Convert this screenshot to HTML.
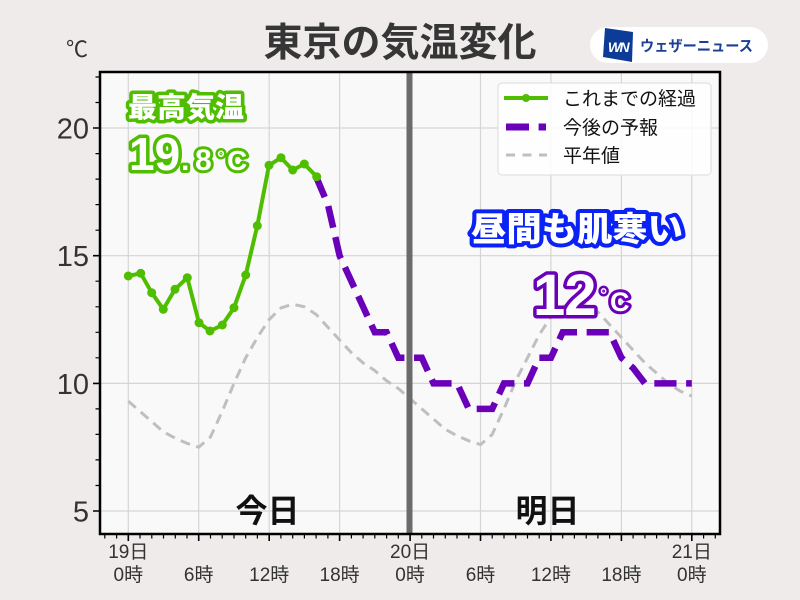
<!DOCTYPE html>
<html lang="ja">
<head>
<meta charset="utf-8">
<style>
  html,body{margin:0;padding:0;background:#eeebea;}
  svg{display:block;}
  text{font-family:"Liberation Sans","Noto Sans CJK JP",sans-serif;}
  .jp{font-family:"Noto Sans CJK JP","Liberation Sans",sans-serif;}
</style>
</head>
<body>
<svg width="800" height="600" viewBox="0 0 800 600" xmlns="http://www.w3.org/2000/svg">
  <rect x="0" y="0" width="800" height="600" fill="#eeebea"/>

  <!-- title -->
  <text class="jp" x="400" y="56" text-anchor="middle" font-size="39" font-weight="700" fill="#363636">東京の気温変化</text>

  <!-- logo -->
  <rect x="590" y="27" width="178" height="36" rx="18" fill="#ffffff"/>
  <polygon points="605,28 633,32 632,62 603,57" fill="#0c3c98"/>
  <text x="618" y="52" text-anchor="middle" font-size="14" font-weight="700" font-style="italic" fill="#ffffff" letter-spacing="-1.5">WN</text>
  <text class="jp" x="640" y="51" font-size="15" font-weight="700" fill="#1b3f94" textLength="113" lengthAdjust="spacingAndGlyphs">ウェザーニュース</text>

  <!-- unit -->
  <text class="jp" x="88" y="57" text-anchor="end" font-size="22" fill="#333">℃</text>

  <!-- plot background -->
  <rect x="100" y="72" width="620" height="462" fill="#faf9fa"/>

  <!-- grid -->
  <g stroke="#d6d4d6" stroke-width="1.2">
    <line x1="128.3" y1="72" x2="128.3" y2="534"/>
    <line x1="198.7" y1="72" x2="198.7" y2="534"/>
    <line x1="269.2" y1="72" x2="269.2" y2="534"/>
    <line x1="339.6" y1="72" x2="339.6" y2="534"/>
    <line x1="480.5" y1="72" x2="480.5" y2="534"/>
    <line x1="550.9" y1="72" x2="550.9" y2="534"/>
    <line x1="621.4" y1="72" x2="621.4" y2="534"/>
    <line x1="691.8" y1="72" x2="691.8" y2="534"/>
    <line x1="100" y1="511" x2="720" y2="511"/>
    <line x1="100" y1="383.4" x2="720" y2="383.4"/>
    <line x1="100" y1="255.7" x2="720" y2="255.7"/>
    <line x1="100" y1="128" x2="720" y2="128"/>
  </g>

  <!-- normal (gray dashed) -->
  <polyline fill="none" stroke="#c0bfc0" stroke-width="3" stroke-dasharray="10 6.5"
    points="128.3,401.2 140.0,411.4 151.8,421.6 163.5,431.9 175.3,438.2 187.0,443.3 198.7,447.2 210.5,437.0 222.2,411.4 234.0,383.4 245.7,357.8 257.4,337.4 269.2,319.5 280.9,308.0 292.7,304.2 304.4,306.8 316.1,314.4 327.9,327.2 339.6,340.0 351.4,352.7 363.1,362.9 374.8,370.6 386.6,380.8 398.3,388.5 410.1,398.7 421.8,408.9 433.5,419.1 445.3,429.3 457.0,435.7 468.8,440.8 480.5,444.6 492.2,434.4 504.0,408.9 515.7,380.8 527.5,357.8 539.2,334.8 550.9,317.0 562.7,306.8 574.4,301.7 586.2,304.2 597.9,311.9 609.6,324.6 621.4,337.4 633.1,350.2 644.9,362.9 656.6,373.1 668.3,383.4 680.1,391.0 691.8,396.1"/>

  <!-- forecast (purple dashed) -->
  <polyline fill="none" stroke="#6a00b8" stroke-width="6.5" stroke-dasharray="22.2 9.6" stroke-linejoin="miter"
    points="316.1,176.7 327.9,204.6 339.6,255.7 351.4,281.2 363.1,306.8 374.8,332.3 386.6,332.3 398.3,357.8 410.1,357.8 421.8,357.8 433.5,383.4 445.3,383.4 457.0,383.4 468.8,408.9 480.5,408.9 492.2,408.9 504.0,383.4 515.7,383.4 527.5,383.4 539.2,357.8 550.9,357.8 562.7,332.3 574.4,332.3 586.2,332.3 597.9,332.3 609.6,332.3 621.4,357.8 633.1,368.0 644.9,383.4 656.6,383.4 668.3,383.4 680.1,383.4 691.8,383.4"/>

  <!-- observed (green) -->
  <polyline fill="none" stroke="#50be00" stroke-width="4" stroke-linejoin="round"
    points="128.3,276 140.7,273.3 151.7,292.7 163.3,309.3 175,289.3 187.3,277.7 199,322.7 210,331 222.3,325 234,307.7 245.7,275 257.3,225.7 269,165.3 281,157.7 292.7,170 304.3,164 316.7,176.7"/>
  <g fill="#50be00">
    <circle cx="128.3" cy="276" r="4.5"/>
    <circle cx="140.7" cy="273.3" r="4.5"/>
    <circle cx="151.7" cy="292.7" r="4.5"/>
    <circle cx="163.3" cy="309.3" r="4.5"/>
    <circle cx="175" cy="289.3" r="4.5"/>
    <circle cx="187.3" cy="277.7" r="4.5"/>
    <circle cx="199" cy="322.7" r="4.5"/>
    <circle cx="210" cy="331" r="4.5"/>
    <circle cx="222.3" cy="325" r="4.5"/>
    <circle cx="234" cy="307.7" r="4.5"/>
    <circle cx="245.7" cy="275" r="4.5"/>
    <circle cx="257.3" cy="225.7" r="4.5"/>
    <circle cx="269" cy="165.3" r="4.5"/>
    <circle cx="281" cy="157.7" r="4.5"/>
    <circle cx="292.7" cy="170" r="4.5"/>
    <circle cx="304.3" cy="164" r="4.5"/>
    <circle cx="316.7" cy="176.7" r="4.5"/>
  </g>

  <!-- day divider -->
  <rect x="406.5" y="72" width="6" height="462" fill="#6b6b6b"/>

  <!-- day labels -->
  <text class="jp" x="267.5" y="522" text-anchor="middle" font-size="32" font-weight="700" fill="#111">今日</text>
  <text class="jp" x="547.5" y="522" text-anchor="middle" font-size="32" font-weight="700" fill="#111">明日</text>

  <!-- annotations -->
  <g stroke-linejoin="round">
    <text class="jp" x="128" y="117" font-size="28" font-weight="900" fill="#fff" stroke="#50be00" stroke-width="7" paint-order="stroke" textLength="116" lengthAdjust="spacingAndGlyphs">最高気温</text>
    <text x="129" y="170" font-size="46" font-weight="700" fill="#fff" stroke="#50be00" stroke-width="7" paint-order="stroke">19</text>
    <text x="181" y="170" font-size="30" font-weight="700" fill="#fff" stroke="#50be00" stroke-width="6" paint-order="stroke">.</text>
    <text x="195" y="170" font-size="30" font-weight="700" fill="#fff" stroke="#50be00" stroke-width="6" paint-order="stroke">8</text>
    <text x="217" y="165" font-size="20" font-weight="700" fill="#fff" stroke="#50be00" stroke-width="5" paint-order="stroke">°</text>
    <text x="227" y="170" font-size="28" font-weight="700" fill="#fff" stroke="#50be00" stroke-width="6" paint-order="stroke">C</text>

    <text class="jp" x="471" y="241" font-size="34" font-weight="900" fill="#fff" stroke="#0a22f5" stroke-width="8" paint-order="stroke" textLength="212" lengthAdjust="spacingAndGlyphs">昼間も肌寒い</text>

    <text x="533" y="315" font-size="58" font-weight="700" fill="#fff" stroke="#6a00b8" stroke-width="7" paint-order="stroke" letter-spacing="-1">12</text>
    <text x="600" y="301" font-size="18" font-weight="700" fill="#fff" stroke="#6a00b8" stroke-width="5" paint-order="stroke">°</text>
    <text x="610" y="311" font-size="27" font-weight="700" fill="#fff" stroke="#6a00b8" stroke-width="6" paint-order="stroke">C</text>
  </g>

  <!-- legend -->
  <rect x="498" y="83" width="213" height="92" rx="4" fill="#ffffff" fill-opacity="0.85" stroke="#dcdcdc" stroke-width="1"/>
  <line x1="504" y1="98" x2="548" y2="98" stroke="#50be00" stroke-width="4"/>
  <circle cx="526" cy="98" r="4" fill="#50be00"/>
  <line x1="506" y1="127" x2="546" y2="127" stroke="#6a00b8" stroke-width="7" stroke-dasharray="23 9.6"/>
  <line x1="506" y1="155" x2="547" y2="155" stroke="#c0bfc0" stroke-width="3" stroke-dasharray="9 7.5"/>
  <text class="jp" x="563" y="105" font-size="19" fill="#111">これまでの経過</text>
  <text class="jp" x="563" y="134" font-size="19" fill="#111">今後の予報</text>
  <text class="jp" x="563" y="162" font-size="19" fill="#111">平年値</text>

  <!-- axes frame -->
  <rect x="100" y="72" width="620" height="462" fill="none" stroke="#000" stroke-width="2.5"/>

  <!-- x ticks -->
  <path fill="none" stroke="#000" stroke-width="1.2" d="M104.8 535v3.5 M116.6 535v3.5 M140.0 535v3.5 M151.8 535v3.5 M163.5 535v3.5 M175.3 535v3.5 M187.0 535v3.5 M210.5 535v3.5 M222.2 535v3.5 M234.0 535v3.5 M245.7 535v3.5 M257.4 535v3.5 M280.9 535v3.5 M292.7 535v3.5 M304.4 535v3.5 M316.1 535v3.5 M327.9 535v3.5 M351.4 535v3.5 M363.1 535v3.5 M374.8 535v3.5 M386.6 535v3.5 M398.3 535v3.5 M421.8 535v3.5 M433.5 535v3.5 M445.3 535v3.5 M457.0 535v3.5 M468.8 535v3.5 M492.2 535v3.5 M504.0 535v3.5 M515.7 535v3.5 M527.5 535v3.5 M539.2 535v3.5 M562.7 535v3.5 M574.4 535v3.5 M586.2 535v3.5 M597.9 535v3.5 M609.6 535v3.5 M633.1 535v3.5 M644.9 535v3.5 M656.6 535v3.5 M668.3 535v3.5 M680.1 535v3.5 M703.6 535v3.5 M715.3 535v3.5"/>
  <path fill="none" stroke="#000" stroke-width="1.6" d="M128.3 535v6 M198.7 535v6 M269.2 535v6 M339.6 535v6 M410.1 535v6 M480.5 535v6 M550.9 535v6 M621.4 535v6 M691.8 535v6"/>

  <!-- y ticks -->
  <path fill="none" stroke="#000" stroke-width="1.2" d="M99 485.5h-3.5 M99 459.9h-3.5 M99 434.4h-3.5 M99 408.9h-3.5 M99 357.8h-3.5 M99 332.3h-3.5 M99 306.8h-3.5 M99 281.2h-3.5 M99 230.2h-3.5 M99 204.6h-3.5 M99 179.1h-3.5 M99 153.6h-3.5 M99 102.5h-3.5 M99 77h-3.5"/>
  <path fill="none" stroke="#000" stroke-width="1.6" d="M99 511h-6 M99 383.4h-6 M99 255.7h-6 M99 128h-6"/>

  <!-- y labels -->
  <g font-size="29" fill="#333" text-anchor="end">
    <text x="89" y="521.5">5</text>
    <text x="89" y="393.9">10</text>
    <text x="89" y="266.2">15</text>
    <text x="89" y="138.5">20</text>
  </g>

  <!-- x labels -->
  <g class="jp" font-size="19" fill="#333" text-anchor="middle">
    <text x="128.3" y="558">19日</text>
    <text x="128.3" y="581">0時</text>
    <text x="198.7" y="581">6時</text>
    <text x="269.2" y="581">12時</text>
    <text x="339.6" y="581">18時</text>
    <text x="410.1" y="558">20日</text>
    <text x="410.1" y="581">0時</text>
    <text x="480.5" y="581">6時</text>
    <text x="550.9" y="581">12時</text>
    <text x="621.4" y="581">18時</text>
    <text x="691.8" y="558">21日</text>
    <text x="691.8" y="581">0時</text>
  </g>
</svg>
</body>
</html>
